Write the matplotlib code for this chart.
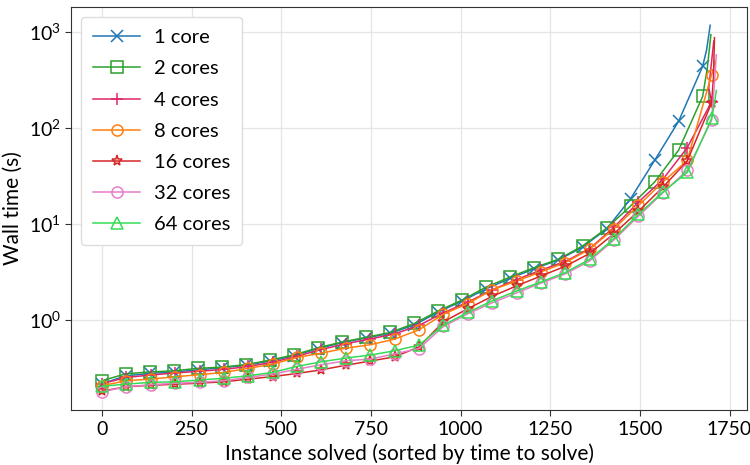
import numpy as np
import matplotlib.pyplot as plt

## Données (temps en secondes)
labels = ["1 core", "2 cores", "4 cores", "8 cores", "16 cores", "32 cores", "64 cores"]
pas = [67, 67, 68, 68, 68, 68, 68]

t1 = [0.215, 0.26, 0.275, 0.285, 0.30, 0.315, 0.335, 0.37, 0.42, 0.50, 0.575, 0.645, 0.72,
      0.88, 1.2, 1.57, 2.1, 2.7, 3.4, 4.2, 5.7, 8.8, 18.2, 45.7, 117, 437]
t2 = [0.231, 0.273, 0.285, 0.293, 0.311, 0.320, 0.340, 0.379, 0.43, 0.51, 0.585, 0.655, 0.735,
      0.913, 1.235, 1.607, 2.195, 2.79, 3.49, 4.26, 5.86, 8.96, 15.3, 27.2, 58.5, 212]
t4 = [0.215, 0.25, 0.265, 0.278, 0.29, 0.303, 0.325, 0.36, 0.415, 0.49, 0.56, 0.63, 0.71,
      0.87, 1.18, 1.52, 2.05, 2.62, 3.28, 4.05, 5.5, 9.2, 16.8, 29, 62, 187]
t8 = [0.205, 0.231, 0.240, 0.254, 0.267, 0.282, 0.311, 0.344, 0.404, 0.448, 0.505, 0.547, 0.627,
      0.783, 1.14, 1.47, 2.04, 2.53, 3.14, 3.94, 5.42, 8.9, 15.5, 27.2, 45.7, 359]
t16 = [0.18, 0.2, 0.207, 0.212, 0.218, 0.225, 0.24, 0.255, 0.275, 0.30, 0.335, 0.37, 0.41,
       0.52, 0.95, 1.3, 1.75, 2.25, 2.85, 3.6, 4.9, 7.9, 13.5, 24, 45, 182]
t32 = [0.177, 0.2, 0.21, 0.217, 0.222, 0.231, 0.25, 0.271, 0.305, 0.339, 0.373, 0.388, 0.44,
       0.50, 0.85, 1.15, 1.5, 1.9, 2.4, 3.0, 4.1, 6.8, 12.0, 21, 36, 120]
t64 = [0.202, 0.213, 0.222, 0.225, 0.235, 0.245, 0.26, 0.282, 0.326, 0.364, 0.398, 0.427, 0.474,
       0.543, 0.877, 1.19, 1.57, 1.99, 2.47, 3.1, 4.26, 7.0, 12.5, 21.4, 34.2, 125]

# fin des courbes (quasi verticale)
queue_x = [[1686, 1696], [1688, 1698], [1692, 1706], [1706, 1709], [1705, 1708],
           [1708, 1713], [1708, 1713]]
queue_t = [[650, 1170], [420, 935], [260, 800], [420, 495], [330, 870], [300, 575], [180, 245]]

series = [t1, t2, t4, t8, t16, t32, t64]
couleurs = ["#1f77b4", "#2ca02c", "#e0266a", "#ff7f0e", "#d62728", "#e87dc8", "#35dc55"]
marqueurs = ["x", "s", "+", "o", "*", "o", "^"]

## Figure
plt.rcParams['font.family'] = ['Lato', 'DejaVu Sans']
plt.rcParams['mathtext.fontset'] = 'custom'
plt.rcParams['mathtext.rm'] = 'Lato'
plt.rcParams['mathtext.it'] = 'Lato'

fig = plt.figure(figsize=(7.5, 4.65), dpi=100)
ax = fig.add_axes([0.095, 0.118, 0.901, 0.867])

for t, qx, qt, p, c, m, lab in zip(series, queue_x, queue_t, pas, couleurs, marqueurs, labels):
    x = list(np.arange(len(t)) * p) + qx
    y = t + qt
    ax.plot(x, y, color=c, marker=m, markevery=list(range(len(t))), label=lab,
            lw=1.1, ms=8, mfc='none', mew=1.1)

ax.set_yscale('log')
ax.set_xticks([0, 250, 500, 750, 1000, 1250, 1500, 1750])
ax.tick_params(labelsize=14, length=4, color='#333333')
ax.minorticks_off()
ax.grid(True, color='#e5e5e5', lw=0.9)
ax.set_axisbelow(True)
for s in ax.spines.values():
    s.set_color('#333333')
ax.set_xlabel('Instance solved (sorted by time to solve)', fontsize=15)
ax.set_ylabel('Wall time (s)', fontsize=15)
ax.legend(loc='upper left', fontsize=14.5, labelspacing=0.7, handlelength=2.3,
          handletextpad=0.7, borderpad=0.6, framealpha=1, edgecolor='#dddddd')

plt.savefig("out.png", dpi=100)
